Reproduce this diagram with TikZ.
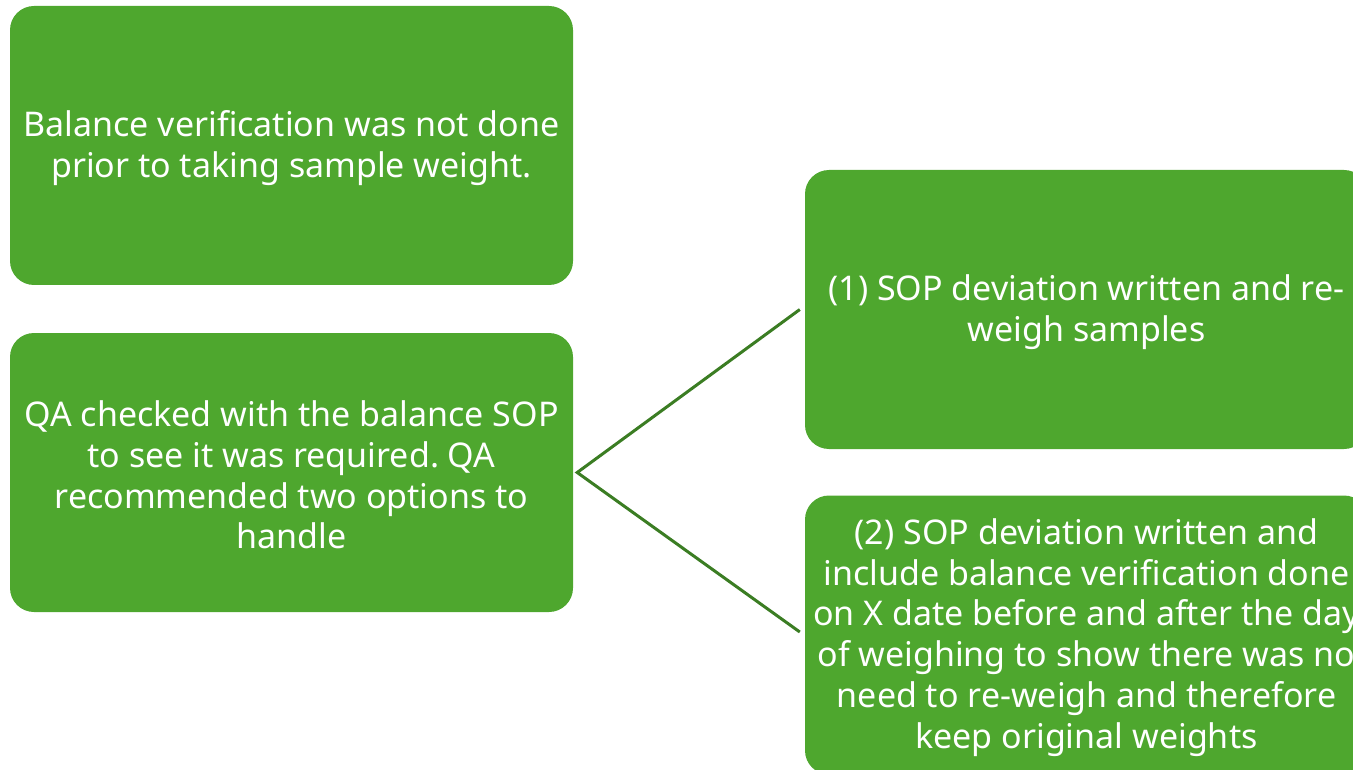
\documentclass[tikz,border=0pt]{standalone}
\usepackage{fontspec}
\setmainfont{Noto Sans}
\frenchspacing
\definecolor{boxgreen}{HTML}{4EA72E}
\definecolor{linegreen}{HTML}{3B7D23}
\begin{document}
\begin{tikzpicture}[x=1pt,y=-1pt,
  gbox/.style={fill=boxgreen,draw=none,rounded corners=24pt,minimum width=563pt,minimum height=279pt},
  gtext/.style={text=white,align=center,inner sep=0pt,font=\fontsize{34pt}{40.8pt}\selectfont},
  conn/.style={draw=linegreen,line width=3pt}]
\useasboundingbox (0,0) rectangle (1353,770);
\clip (0,0) rectangle (1353,770);
\node[gbox] (A) at (291.5,145.5) {};
\node[gbox] (B) at (291.5,472.5) {};
\node[gbox] (C) at (1086.5,309.5) {};
\node[gbox] (D) at (1086.5,635) {};
\node[gtext] (At) at ([yshift=-2.5pt]A.center) {Balance verification was not done\\prior to taking sample weight.};
\node[gtext] (Bt) at ([yshift=-2.5pt]B.center) {QA checked with the balance SOP\\to see it was required. QA\\recommended two options to\\handle};
\node[gtext] (Ct) at ([yshift=-2.5pt]C.center) {(1) SOP deviation written and re-\\weigh samples};
\node[gtext] (Dt) at ([yshift=-2.5pt]D.center) {(2) SOP deviation written and\\include balance verification done\\on X date before and after the day\\of weighing to show there was no\\need to re-weigh and therefore\\keep original weights};
\coordinate (bs) at ([xshift=4pt]B.east);
\coordinate (ce) at ([xshift=-5pt]C.west);
\coordinate (de) at ([xshift=-5pt,yshift=3pt]D.west);
\draw[conn] (ce) -- (bs) -- (de);
\end{tikzpicture}
\end{document}
